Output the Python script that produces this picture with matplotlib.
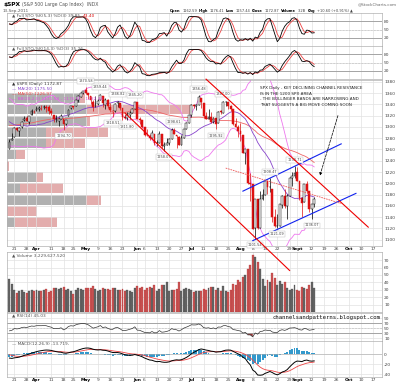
import numpy as np
import pandas as pd
import matplotlib
matplotlib.use("Agg")
import matplotlib.pyplot as plt
from matplotlib.lines import Line2D

# closes Jan 3 - Mar 16 2011, only used to warm up the indicators
hist_close = [1271.87, 1270.20, 1276.56, 1273.85, 1271.50, 1269.75, 1274.48, 1285.96, 1283.76, 1293.24,
              1295.02, 1281.92, 1280.26, 1283.35, 1290.84, 1291.18, 1296.63, 1299.54, 1276.34, 1286.12,
              1307.59, 1304.03, 1307.10, 1310.87, 1319.05, 1324.57, 1320.88, 1321.87, 1329.15, 1332.32,
              1328.01, 1336.32, 1340.43, 1343.01, 1315.44, 1307.40, 1306.10, 1319.88, 1327.22, 1306.33,
              1308.44, 1330.97, 1321.15, 1310.13, 1321.82, 1320.02, 1295.11, 1304.28, 1296.39, 1281.87,
              1256.88]

holidays = ["2011-04-22", "2011-05-30", "2011-07-04", "2011-09-05"]

open_px = [
    1261.61, 1276.71, 1281.65, 1298.29, 1292.19, 1300.61, 1311.80, 1315.45, 1309.37, 1321.89, 1327.44,
    1329.48, 1332.03, 1332.03, 1335.94, 1334.82, 1336.16, 1329.01, 1321.96, 1314.03, 1311.13, 1314.54,
    1313.35, 1305.99, 1319.12, 1333.23, 1337.14, 1336.75, 1348.43, 1353.86, 1360.14,
    1365.21, 1359.76, 1355.90, 1344.16, 1340.24, 1340.20, 1348.34, 1354.51, 1339.39, 1348.69, 1334.77,
    1326.10, 1328.54, 1342.40, 1342.00, 1333.07, 1317.70, 1316.36, 1320.64, 1325.69, 1331.10,
    1345.20, 1314.55, 1312.94, 1300.26, 1286.31, 1284.63, 1279.63, 1288.26, 1271.31, 1272.22, 1287.87,
    1265.53, 1268.58, 1271.50, 1278.40, 1295.48, 1286.60, 1283.04, 1268.44, 1280.21, 1296.85, 1307.64,
    1320.64, 1339.59, 1337.56, 1339.62, 1352.39, 1343.31, 1319.61, 1314.45, 1317.74, 1308.87, 1315.94,
    1307.07, 1328.66, 1325.65, 1343.80, 1344.32, 1337.39, 1331.91, 1304.84, 1300.12,
    1292.59, 1286.56, 1254.25, 1260.23, 1200.28, 1198.48, 1120.23, 1171.77, 1121.30, 1172.87, 1178.86,
    1204.22, 1192.89, 1189.62, 1140.47, 1123.55, 1124.36, 1162.16, 1176.69, 1158.85, 1177.91, 1209.76,
    1213.00,
    1219.12, 1203.90, 1173.97, 1165.85, 1197.98, 1185.37, 1153.50, 1162.59]
high_px = [
    1278.88, 1288.88, 1300.58, 1299.35, 1300.51, 1311.34, 1319.18, 1319.74, 1319.45, 1331.74, 1329.77,
    1337.85, 1336.74, 1338.21, 1339.38, 1338.80, 1339.46, 1333.77, 1321.96, 1321.35, 1316.79, 1322.88,
    1313.35, 1312.70, 1332.66, 1337.49, 1337.55, 1349.55, 1357.49, 1361.71, 1364.56,
    1370.58, 1360.84, 1355.90, 1348.00, 1354.36, 1349.44, 1359.44, 1354.51, 1351.05, 1350.47, 1343.33,
    1330.42, 1341.82, 1346.82, 1342.00, 1333.07, 1323.72, 1325.86, 1328.51, 1334.62, 1345.20,
    1345.20, 1318.03, 1312.94, 1300.26, 1296.22, 1287.04, 1294.54, 1288.26, 1277.04, 1292.50, 1287.87,
    1274.11, 1279.82, 1280.42, 1297.62, 1298.61, 1286.60, 1283.93, 1284.91, 1296.80, 1309.21, 1321.97,
    1341.01, 1340.89, 1340.94, 1356.48, 1352.39, 1343.31, 1327.17, 1331.48, 1326.88, 1317.70, 1315.94,
    1328.14, 1330.43, 1347.00, 1346.10, 1344.32, 1338.51, 1331.91, 1316.32, 1304.16,
    1307.38, 1286.56, 1261.20, 1260.23, 1218.11, 1198.48, 1172.88, 1171.77, 1186.29, 1189.04, 1204.49,
    1204.22, 1208.47, 1189.62, 1154.54, 1145.49, 1162.35, 1178.56, 1190.68, 1181.23, 1210.28, 1220.10,
    1230.71,
    1229.29, 1203.90, 1173.97, 1198.62, 1204.40, 1185.37, 1162.52, 1176.41]
low_px = [
    1261.61, 1276.18, 1281.65, 1292.70, 1284.05, 1297.74, 1310.15, 1310.19, 1305.26, 1321.89, 1325.03,
    1328.89, 1329.10, 1330.03, 1331.09, 1326.56, 1322.94, 1321.06, 1309.51, 1309.19, 1302.42, 1313.68,
    1294.70, 1303.97, 1319.12, 1332.05, 1331.47, 1336.75, 1344.25, 1353.60, 1358.69,
    1358.59, 1349.52, 1341.50, 1329.17, 1335.58, 1338.64, 1348.34, 1336.36, 1332.03, 1333.36, 1327.32,
    1318.51, 1326.59, 1336.36, 1330.67, 1312.88, 1313.87, 1311.80, 1314.41, 1325.69, 1331.10,
    1313.71, 1305.61, 1297.90, 1284.72, 1284.74, 1277.42, 1279.63, 1268.28, 1265.64, 1272.22, 1261.90,
    1258.07, 1267.40, 1267.56, 1278.40, 1286.79, 1262.87, 1267.24, 1267.53, 1280.21, 1296.85, 1307.64,
    1318.18, 1334.30, 1330.92, 1339.62, 1333.71, 1316.42, 1313.33, 1314.45, 1306.51, 1307.35, 1295.92,
    1307.07, 1323.65, 1325.65, 1336.95, 1331.09, 1329.10, 1303.49, 1299.16, 1282.86,
    1274.73, 1254.03, 1234.56, 1199.54, 1168.09, 1119.28, 1101.54, 1118.01, 1121.30, 1170.74, 1178.86,
    1180.53, 1184.36, 1131.03, 1122.05, 1121.09, 1124.36, 1156.30, 1155.47, 1135.91, 1177.91, 1195.77,
    1209.35,
    1203.85, 1170.56, 1140.13, 1165.85, 1183.34, 1148.37, 1136.07, 1157.44]
close_px = [
    1273.72, 1279.21, 1298.38, 1293.77, 1297.54, 1309.66, 1313.80, 1310.19, 1319.44, 1328.26, 1325.83,
    1332.41, 1332.87, 1332.63, 1335.54, 1333.51, 1328.17, 1324.46, 1314.16, 1314.41, 1314.52, 1319.68,
    1305.14, 1312.62, 1330.36, 1337.38, 1335.25, 1347.24, 1355.66, 1360.48, 1363.61,
    1361.22, 1356.62, 1347.32, 1335.10, 1340.20, 1346.29, 1357.16, 1342.08, 1348.65, 1337.77, 1329.47,
    1328.98, 1340.68, 1343.60, 1333.27, 1317.37, 1316.28, 1320.47, 1325.69, 1331.10, 1345.20,
    1314.55, 1312.94, 1300.16, 1286.17, 1284.94, 1279.56, 1289.00, 1270.98, 1271.83, 1287.87, 1265.42,
    1267.64, 1271.50, 1278.36, 1295.52, 1287.14, 1283.50, 1268.45, 1280.10, 1296.67, 1307.41, 1320.64,
    1339.67, 1337.88, 1339.22, 1353.22, 1343.80, 1319.49, 1313.64, 1317.72, 1308.87, 1316.14, 1305.44,
    1326.73, 1325.84, 1343.80, 1345.02, 1337.43, 1331.94, 1304.89, 1300.67, 1292.28,
    1286.94, 1254.05, 1260.34, 1200.07, 1199.38, 1119.46, 1172.53, 1120.76, 1172.64, 1178.81, 1204.49,
    1192.76, 1193.89, 1140.65, 1123.53, 1123.82, 1162.35, 1177.60, 1159.27, 1176.80, 1210.08, 1212.92,
    1218.89,
    1204.42, 1173.97, 1165.24, 1198.62, 1185.90, 1154.23, 1162.27, 1172.87]
# volume, hundreds of millions of shares
volume = [
    45, 38, 30, 26, 28, 30, 27, 25, 28, 30, 29,
    30, 28, 29, 30, 31, 27, 28, 32, 33, 31, 33, 34, 30, 31, 29, 24, 30, 33, 31, 30,
    33, 32, 33, 35, 31, 28, 30, 32, 31, 31, 30, 33, 32, 30, 30, 31, 28, 30, 29, 27, 33,
    35, 33, 34, 30, 32, 34, 33, 36, 29, 31, 36, 36, 40, 28, 30, 30, 31, 40, 29, 31, 32, 31,
    30, 27, 28, 29, 28, 31, 30, 32, 34, 34, 30, 32, 29, 35, 28, 27, 30, 38, 37, 43,
    41, 47, 50, 58, 64, 77, 74, 68, 58, 45, 35, 43, 40, 52, 46, 37, 42, 38, 40, 33, 30, 31, 36,
    30, 28, 34, 33, 31, 36, 40, 32]

# volume by price (billions of shares) per price zone
vbp_price = [1351, 1331, 1311, 1291, 1271, 1251, 1231, 1211, 1191, 1171, 1151, 1131]
vbp_up = [39.4, 43.2, 43.2, 21.1, 21.1, 4.9, 0.0, 15.7, 7.0, 42.7, 0.0, 4.3]
vbp_down = [2.7, 57.2, 1.6, 33.5, 21.1, 4.9, 1.1, 3.8, 23.2, 8.1, 16.2, 22.7]

# high / low markers printed on the chart
marks = [("2011-05-02", 1370.58, "hi"), ("2011-05-10", 1359.44, "hi"), ("2011-05-19", 1346.82, "hi"),
         ("2011-05-31", 1345.20, "hi"), ("2011-07-07", 1356.48, "hi"), ("2011-07-21", 1347.00, "hi"),
         ("2011-04-18", 1294.70, "lo"), ("2011-05-17", 1318.51, "lo"), ("2011-05-25", 1311.80, "lo"),
         ("2011-06-16", 1258.07, "lo"), ("2011-06-22", 1298.61, "hi"), ("2011-07-18", 1295.92, "lo"),
         ("2011-08-09", 1101.54, "lo"), ("2011-08-17", 1208.47, "hi"), ("2011-08-22", 1121.09, "lo"),
         ("2011-08-31", 1230.71, "hi"), ("2011-09-12", 1136.07, "lo")]

# hand drawn lines (date, price)
red_lines = [(("2011-05-24", 1325), ("2011-08-29", 1045)),
             (("2011-07-12", 1385), ("2011-10-13", 1122))]
blue_lines = [(("2011-08-02", 1186), ("2011-09-28", 1270)),
              (("2011-08-08", 1098), ("2011-10-06", 1182))]
dotted_line = (("2011-07-22", 1227), ("2011-09-28", 1164))
arrow_line = (("2011-09-27", 1325), ("2011-09-15", 1209))
note = ("SPX Daily - KEY DECLINING CHANNEL RESISTANCE\nIS IN THE 1200 SPX AREA\n"
        "- THE BOLLINGER BANDS ARE NARROWING AND\nTHAT SUGGESTS A BIG MOVE COMING SOON")

tick_dates = ["2011-03-21", "2011-03-28", "2011-04-01", "2011-04-11", "2011-04-18", "2011-04-25",
              "2011-05-02", "2011-05-09", "2011-05-16", "2011-05-23", "2011-06-01", "2011-06-06",
              "2011-06-13", "2011-06-20", "2011-06-27", "2011-07-01", "2011-07-11", "2011-07-18",
              "2011-07-25", "2011-08-01", "2011-08-08", "2011-08-15", "2011-08-22", "2011-08-29",
              "2011-09-01", "2011-09-12", "2011-09-19", "2011-09-26", "2011-10-03", "2011-10-10",
              "2011-10-17"]
tick_labels = ["21", "28", "Apr", "11", "18", "25", "May", "9", "16", "23", "Jun", "6", "13", "20", "27",
               "Jul", "11", "18", "25", "Aug", "8", "15", "22", "29", "Sept", "12", "19", "26", "Oct",
               "10", "17"]

# ---- derived series ----
days = pd.bdate_range("2011-03-17", "2011-10-24")
days = days[~days.isin(pd.to_datetime(holidays))]
pos = {d.strftime("%Y-%m-%d"): i for i, d in enumerate(days)}

o = np.array(open_px); h = np.array(high_px); l = np.array(low_px); c = np.array(close_px)
n = len(c)
x = np.arange(n)
nh = len(hist_close)
allc = pd.Series(hist_close + close_px)
ma20 = allc.rolling(20).mean().values[nh:]
ma50 = allc.rolling(50).mean().values[nh:]
sd20 = allc.rolling(20).std(ddof=0).values[nh:]
bb_up, bb_lo = ma20 + 2 * sd20, ma20 - 2 * sd20

delta = allc.diff()
gain = delta.clip(lower=0).ewm(alpha=1 / 14, adjust=False).mean()
loss = (-delta.clip(upper=0)).ewm(alpha=1 / 14, adjust=False).mean()
rsi = (100 - 100 / (1 + gain / loss)).values[nh:]

macd_all = allc.ewm(span=12, adjust=False).mean() - allc.ewm(span=26, adjust=False).mean()
sig_all = macd_all.ewm(span=9, adjust=False).mean()
macd = macd_all.values[nh:]; sig = sig_all.values[nh:]; mhist = macd - sig


def stoch(k, smooth):
    hh = pd.Series(h).rolling(k, min_periods=1).max()
    ll = pd.Series(l).rolling(k, min_periods=1).min()
    fast = 100 * (pd.Series(c) - ll) / (hh - ll)
    slow = fast.rolling(smooth, min_periods=1).mean()
    return slow.values, slow.rolling(3, min_periods=1).mean().values


prev = np.r_[hist_close[-1], c[:-1]]
down = c < prev
RED = "#dd1111"
col = np.where(down, RED, "black")

# ---- figure ----
W, H = 400, 386
fig = plt.figure(figsize=(4, 3.86), dpi=100)
XL = (-1, 151.6)
tick_pos = [pos[d] for d in tick_dates]


def panel(top, bottom):
    ax = fig.add_axes([7 / W, 1 - bottom / H, 375 / W, (bottom - top) / H])
    ax.set_xlim(*XL)
    ax.yaxis.tick_right()
    ax.tick_params(axis="y", length=0, labelsize=3.2, colors="#444444", pad=1.5)
    ax.set_xticks(tick_pos)
    ax.tick_params(axis="x", length=0, labelsize=3.2, colors="#444444", pad=1)
    ax.set_xticklabels([])
    ax.grid(True, color="#e2e2e2", lw=0.5)
    ax.set_axisbelow(True)
    for s in ax.spines.values():
        s.set_color("#b0b0b0")
        s.set_linewidth(0.5)
    return ax


def xlabels(ax):
    ax.set_xticklabels(tick_labels)
    for t in ax.get_xticklabels():
        if not t.get_text().isdigit():
            t.set_fontweight("bold")
            t.set_color("black")


def chain(first, parts, size):
    # put each piece of text just right of the previous one
    prev_t = first
    for s, cl, bold in parts:
        prev_t = fig.axes[0].annotate(s, xy=(1, 0), xycoords=prev_t, xytext=(1.2, 0),
                                      textcoords="offset points", fontsize=size, color=cl,
                                      fontweight="bold" if bold else "normal", va="bottom", ha="left")
    return prev_t


def legend(ax, y, parts, size=3.1):
    s0, c0 = parts[0]
    t = ax.text(0.012, y, s0, transform=ax.transAxes, fontsize=size, color=c0, va="top", ha="left", zorder=7)
    chain(t, [(s, cl, False) for s, cl in parts[1:]], size)


# stochastics
for (top, bot), (k, sm), lab in [((13, 46), (5, 3), [("▲ Full STO %K(5,3) %D(3) 39.85,", "#555555"), ("43.40", RED)]),
                                  ((46, 79), (14, 3), [("▲ Full STO %K(14,3) %D(3) 35.26,", "#555555"), ("43.52", RED)])]:
    ax = panel(top, bot)
    kk, dd = stoch(k, sm)
    ax.set_ylim(-10, 110)
    ax.set_yticks([20, 50, 80])
    ax.axhline(80, color="#999999", lw=0.6)
    ax.axhline(20, color="#999999", lw=0.6)
    ax.axhline(50, color="#999999", lw=0.4, ls=":")
    ax.plot(x, dd, color="#ee4444", lw=0.6)
    ax.plot(x, kk, color="black", lw=0.6)
    legend(ax, 0.97, lab)

# price panel
ax_p = panel(80, 246)
ax_p.set_ylim(1088.5, 1383.5)
ax_p.set_yticks(np.arange(1100, 1381, 20))
xlabels(ax_p)
ax_p.set_zorder(5)
ax_p.patch.set_visible(False)

ax_vbp = ax_p.twiny()
ax_vbp.set_zorder(4)
ax_vbp.patch.set_visible(False)
ax_vbp.set_xlim(0, 203)
ax_vbp.barh(vbp_price, vbp_up, height=17.5, color="#a8a8a8", alpha=0.9)
ax_vbp.barh(vbp_price, vbp_down, left=vbp_up, height=17.5, color="#e0a4a4", alpha=0.9)
ax_vbp.set_xticks([])
for s in ax_vbp.spines.values():
    s.set_visible(False)

ax_p.plot(x, ma50, color="#ee6666", lw=0.6, zorder=2)
ax_p.plot(x, ma20, color="#8844cc", lw=0.6, zorder=2)
ax_p.plot(x, bb_up, color="#ee77ee", lw=0.6, zorder=2)
ax_p.plot(x, bb_lo, color="#ee77ee", lw=0.6, zorder=2)

ax_p.vlines(x, l, h, colors=col, lw=0.5, zorder=3)
face = np.where(c < o, col, "white")
ax_p.bar(x, np.maximum(np.abs(c - o), 0.6), bottom=np.minimum(o, c), width=0.75,
         color=face, edgecolor=col, lw=0.35, zorder=4)

for d, v, kind in marks:
    off = 4.5 if kind == "hi" else -4.5
    ax_p.annotate(f"{v:.2f}", (pos[d], v), xytext=(0, off), textcoords="offset points",
                  ha="center", va="center", fontsize=2.5, color="#444444", zorder=6,
                  bbox=dict(boxstyle="square,pad=0.25", fc="white", ec="#bbbbbb", lw=0.3))

for (d0, p0), (d1, p1) in blue_lines:
    ax_p.plot([pos[d0], pos[d1]], [p0, p1], color="#1122ee", lw=0.8, zorder=5)
(d0, p0), (d1, p1) = dotted_line
ax_p.plot([pos[d0], pos[d1]], [p0, p1], color="#ee5555", lw=0.6, ls=(0, (2, 1)), zorder=5)
(d0, p0), (d1, p1) = arrow_line
ax_p.annotate("", xy=(pos[d1], p1), xytext=(pos[d0], p0), zorder=6,
              arrowprops=dict(arrowstyle="-|>", color="black", lw=0.5, ls="--", mutation_scale=4))
ax_p.text(pos["2011-08-11"], 1372, note, fontsize=3.0, va="top", ha="left", color="#222222",
          linespacing=1.5, family="Liberation Sans Narrow", zorder=6)

legend(ax_p, 0.985, [("▲ $SPX (Daily) 1172.87", "#333333")])
legend(ax_p, 0.955, [("— MA(20) 1175.50", "#8844cc")])
legend(ax_p, 0.925, [("— MA(50) 1226.97", "#ee4444")])
legend(ax_p, 0.895, [("— BB(20,2.0) 1121.50 - 1176.91 - 1232.36", "#dd55dd")])

# volume
ax_v = panel(252, 312)
ax_v.set_ylim(0, 81)
ax_v.set_yticks([10, 20, 30, 40, 50, 60, 70])
vcol = np.where(down, "#cc5555", "#666666")
ax_v.bar(x, volume, width=0.8, color=vcol, edgecolor=np.where(down, "#aa3333", "#444444"), lw=0.2)
legend(ax_v, 0.97, [("▲ Volume 3,229,627,520", "#555555")])

# channel lines drawn on the figure so they can run past the price panel
for (d0, p0), (d1, p1) in red_lines:
    fig.add_artist(Line2D([pos[d0], pos[d1]], [p0, p1], transform=ax_p.transData,
                          color="#ee0000", lw=0.8, zorder=20))

# rsi
ax_r = panel(313, 341)
ax_r.set_ylim(0, 110)
ax_r.set_yticks([10, 30, 50, 70, 90])
ax_r.axhline(70, color="#999999", lw=0.6)
ax_r.axhline(30, color="#999999", lw=0.6)
ax_r.axhline(50, color="#999999", lw=0.4, ls=":")
ax_r.plot(x, rsi, color="#333333", lw=0.5)
ax_r.fill_between(x, rsi, 30, where=rsi < 30, color="#993333", lw=0)
legend(ax_r, 0.97, [("▲ RSI(14) 45.03", "#555555")])
ax_r.text(0.995, 0.83, "channelsandpatterns.blogspot.com", transform=ax_r.transAxes, ha="right",
          va="center", fontsize=4.1, family="DejaVu Sans Mono", color="#111111", zorder=6)

# macd
ax_m = panel(341, 377)
ax_m.set_ylim(-46, 26)
ax_m.set_yticks([-40, -20, 0])
ax_m.set_yticklabels(["-40", "-20", "0"])
ax_m.bar(x, mhist, width=0.8, color="#3399cc", lw=0, zorder=2)
ax_m.axhline(0, color="#aaaaaa", lw=0.4)
ax_m.plot(x, sig, color="#ee4444", lw=0.6, zorder=3)
ax_m.plot(x, macd, color="black", lw=0.7, zorder=3)
xlabels(ax_m)
legend(ax_m, 0.97, [("— MACD(12,26,9) -13.719,", "#555555"), ("-16.168,", RED), ("2.449", "#3333cc")])

# header
t0 = fig.text(3 / W, 1 - 7 / H, "$SPX", fontsize=4.2, fontweight="bold", va="bottom")
chain(t0, [("(S&P 500 Large Cap Index)  INDX", "#555555", False)], 3.3)
fig.text(3 / W, 1 - 11 / H, "13-Sep-2011", fontsize=3.0, color="#555555", va="center")
fig.text(397 / W, 1 - 4 / H, "@StockCharts.com", fontsize=3.0, color="#666666", ha="right", va="center")
hdr = [("1162.59", "#444444", False), ("High", "black", True), ("1176.41", "#444444", False),
       ("Low", "black", True), ("1157.44", "#444444", False), ("Close", "black", True),
       ("1172.87", "#444444", False), ("Volume", "black", True), ("3.2B", "#444444", False),
       ("Chg", "black", True), ("+10.60 (+0.91%) ▲", "#444444", False)]
t1 = fig.text(170 / W, 1 - 13 / H, "Open", fontsize=2.6, fontweight="bold", va="bottom")
chain(t1, hdr, 2.6)

fig.savefig("out.png", dpi=100, facecolor="white")
